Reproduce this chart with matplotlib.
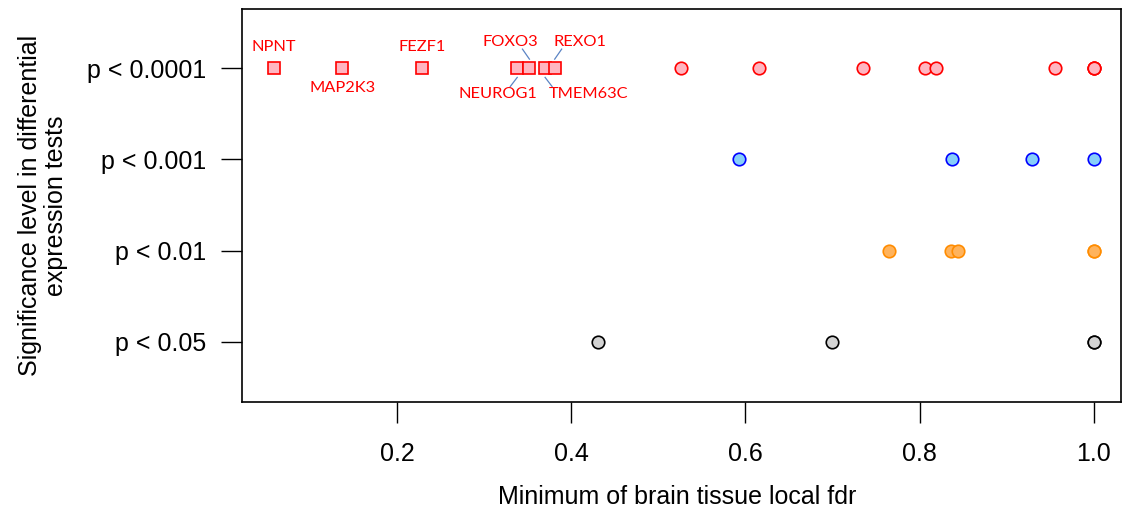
import matplotlib
matplotlib.use("Agg")
import matplotlib.pyplot as plt

levels = ["p < 0.05", "p < 0.01", "p < 0.001", "p < 0.0001"]

# labelled genes (p < 0.0001, squares)
gene_names = ["NPNT", "MAP2K3", "FEZF1", "NEUROG1", "FOXO3", "TMEM63C", "REXO1"]
gene_fdr = [0.059, 0.137, 0.229, 0.338, 0.352, 0.370, 0.381]

# unlabelled genes (circles)
fdr_p0001 = [0.526, 0.615, 0.735, 0.806, 0.819, 0.955, 1.0, 1.0, 1.0]
fdr_p001 = [0.592, 0.837, 0.929, 1.0]
fdr_p01 = [0.765, 0.836, 0.844, 1.0, 1.0]
fdr_p05 = [0.431, 0.699, 1.0, 1.0]

xticks = [0.2, 0.4, 0.6, 0.8, 1.0]

plt.rcParams['font.family'] = ['Liberation Sans', 'DejaVu Sans']

fig = plt.figure(figsize=(11.22, 5.14), dpi=100)
ax = fig.add_axes([242/1122, 112/514, 879/1122, 393/514])

ms = 9
mew = 1.2
ax.plot(fdr_p05, [1]*len(fdr_p05), 'o', ms=ms, mfc='#d3d3d3', mec='black', mew=mew, ls='none')
ax.plot(fdr_p01, [2]*len(fdr_p01), 'o', ms=ms, mfc='#ffb35c', mec='#ff8c00', mew=mew, ls='none')
ax.plot(fdr_p001, [3]*len(fdr_p001), 'o', ms=ms, mfc='#87cefa', mec='blue', mew=mew, ls='none')
ax.plot(fdr_p0001, [4]*len(fdr_p0001), 'o', ms=ms, mfc='#ffb6c1', mec='red', mew=mew, ls='none')
ax.plot(gene_fdr, [4]*len(gene_fdr), 's', ms=8, mfc='#ffb6c1', mec='red', mew=mew, ls='none')

lab_font = dict(color='red', fontsize=11.8, family=['Lato', 'DejaVu Sans'], ha='center', va='center')
label_pos = {
    "NPNT": (0.059, 4.23, False),
    "MAP2K3": (0.137, 3.78, False),
    "FEZF1": (0.229, 4.23, False),
    "NEUROG1": (0.316, 3.72, True),
    "FOXO3": (0.330, 4.29, True),
    "TMEM63C": (0.420, 3.72, True),
    "REXO1": (0.410, 4.29, True),
}
for name, fx in zip(gene_names, gene_fdr):
    lx, ly, lead = label_pos[name]
    ax.text(lx, ly, name, **lab_font)
    if lead:
        if ly > 4:
            x0, y0 = (fx - 0.008, 4.21) if lx < fx else (fx + 0.008, 4.21)
            ax.plot([x0, fx], [y0, 4.10], color='#5b84c4', lw=0.9)
        else:
            x0, y0 = (fx - 0.008, 3.80) if lx < fx else (fx + 0.008, 3.80)
            ax.plot([x0, fx], [y0, 3.90], color='#5b84c4', lw=0.9)

ax.set_xlim(0.0221, 1.031)
ax.set_ylim(0.34, 4.65)
ax.set_yticks([1, 2, 3, 4])
ax.set_yticklabels(levels)
ax.set_xticks(xticks)
ax.set_xticklabels([f"{v:.1f}" for v in xticks])
ax.tick_params(axis='both', labelsize=18, length=15, width=1.0, direction='out')
ax.tick_params(axis='x', pad=14)
ax.tick_params(axis='y', pad=11)
for s in ax.spines.values():
    s.set_linewidth(1.2)

ax.set_xlabel("Minimum of brain tissue local fdr", fontsize=18, va='center')
ax.xaxis.set_label_coords(0.4948, -0.2417)
ax.set_ylabel("Significance level in differential\nexpression tests", fontsize=18,
              linespacing=1.15, va='center')
ax.yaxis.set_label_coords(-0.2264, 0.5)

fig.savefig("out.png", dpi=100)
